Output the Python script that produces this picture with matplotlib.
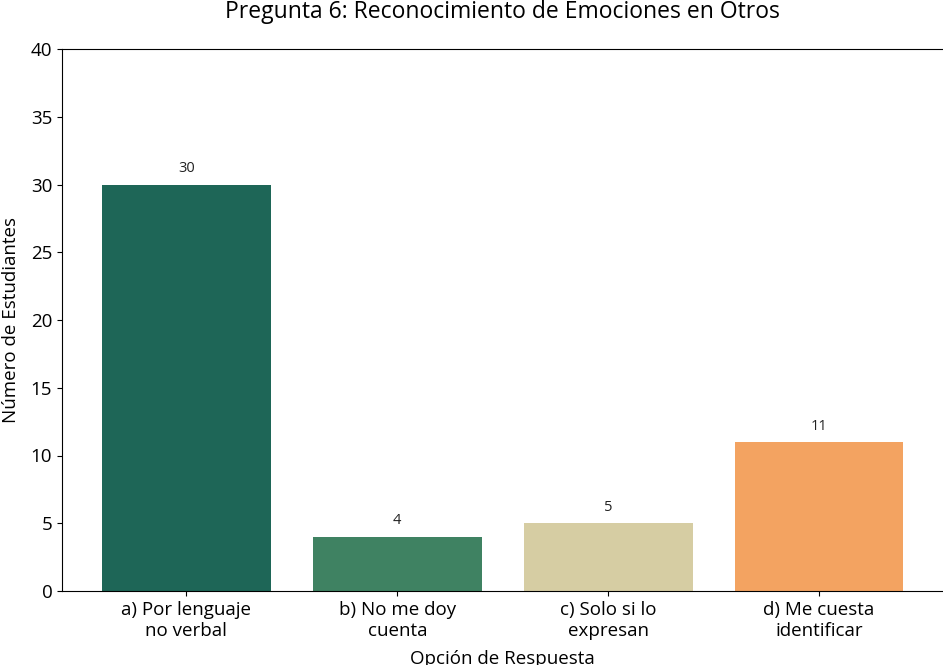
import matplotlib
matplotlib.use('Agg')
import matplotlib.pyplot as plt

plt.rcParams['font.family'] = ['Open Sans', 'DejaVu Sans']

# data
categorias = ['a) Por lenguaje\nno verbal', 'b) No me doy\ncuenta',
              'c) Solo si lo\nexpresan', 'd) Me cuesta\nidentificar']
valores = [30, 4, 5, 11]
colores = ['#1e6657', '#3f8262', '#d6cda3', '#f3a361']

fig = plt.figure(figsize=(9.43, 6.65), dpi=100)
ax = fig.add_axes([62/943, 74/665, 881.5/943, 542/665])

bars = ax.bar(range(len(valores)), valores, width=0.8, color=colores)
ax.bar_label(bars, padding=6, fontsize=10.5, color='#222222')

ax.set_ylim(0, 40)
ax.set_xticks(range(len(valores)))
ax.set_xticklabels(categorias, fontsize=13.5, linespacing=1.25)
ax.tick_params(axis='y', labelsize=13.5)
ax.set_title('Pregunta 6: Reconocimiento de Emociones en Otros', fontsize=16.5, pad=22)
ax.set_xlabel('Opción de Respuesta', fontsize=13.5, labelpad=7)
ax.set_ylabel('Número de Estudiantes', fontsize=13.5, labelpad=8)

plt.savefig('out.png', dpi=100)
